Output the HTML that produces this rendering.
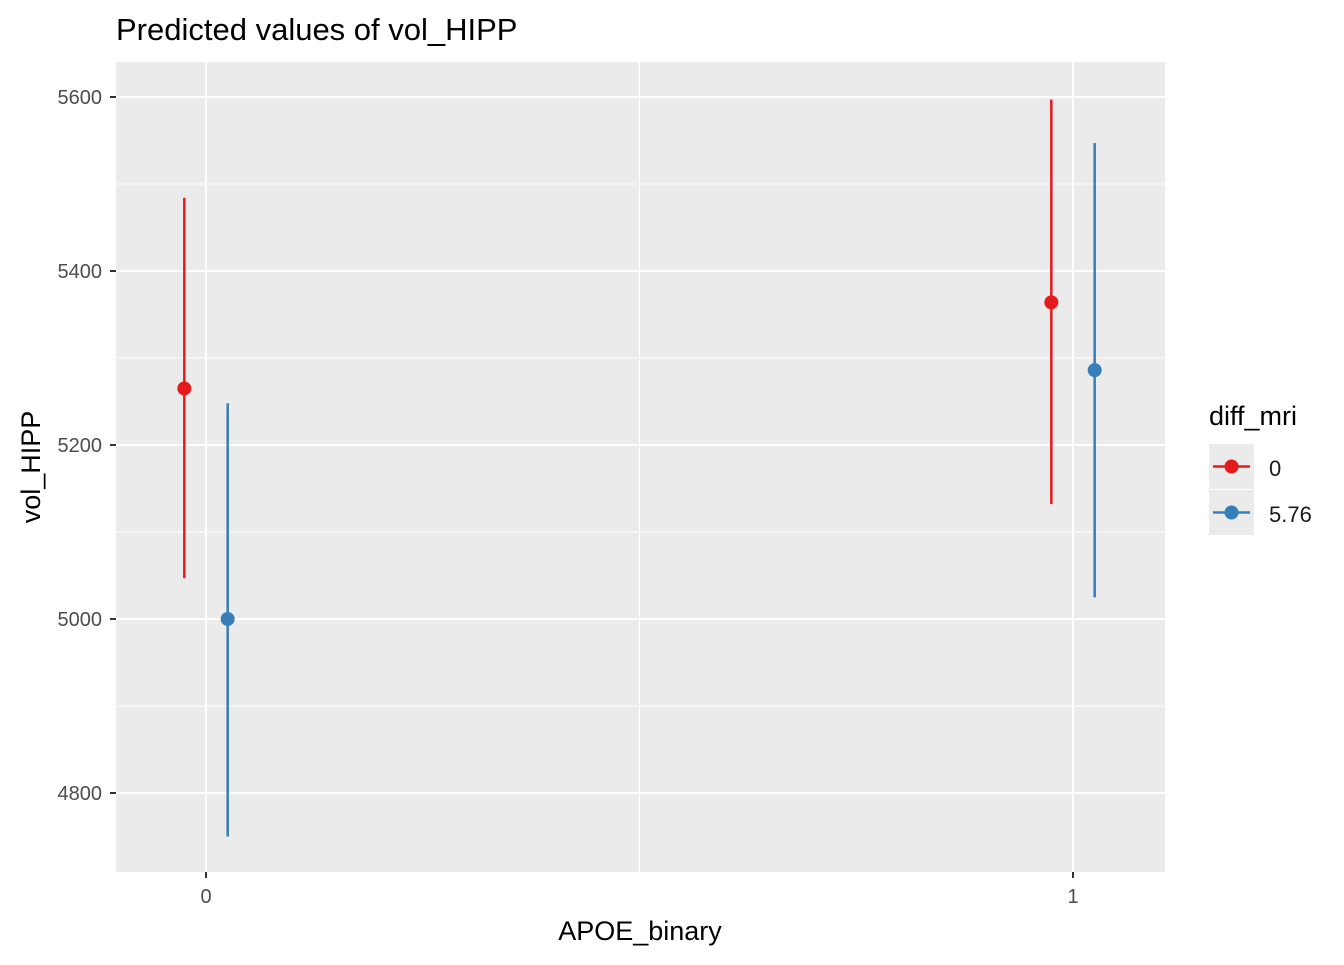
<!DOCTYPE html>
<html><head><meta charset="utf-8"><style>
body{margin:0;background:#fff;font-family:"Liberation Sans",Arial,sans-serif}
</style></head><body>
<svg id="chart" width="1344" height="960" xmlns="http://www.w3.org/2000/svg">
<text x="116" y="40" font-size="31" fill="#000">Predicted values of vol_HIPP</text>
<rect x="116" y="62" width="1049" height="810" fill="#ebebeb"/>
<g id="grid"></g>
<g id="marks"></g>
<g id="axes"></g>
<text x="640" y="940" font-size="27" text-anchor="middle">APOE_binary</text>
<text transform="translate(40,467) rotate(-90)" font-size="27" text-anchor="middle">vol_HIPP</text>
<g>
<text x="1209" y="425" font-size="27">diff_mri</text>
<rect x="1209" y="444" width="45" height="45" fill="#ebebeb"/>
<rect x="1209" y="490" width="45" height="45" fill="#ebebeb"/>
<line x1="1213" x2="1250" y1="466.5" y2="466.5" stroke="#e41a1c" stroke-width="2.5"/>
<circle cx="1231.5" cy="466.5" r="7" fill="#e41a1c"/>
<line x1="1213" x2="1250" y1="512.5" y2="512.5" stroke="#377eb8" stroke-width="2.5"/>
<circle cx="1231.5" cy="512.5" r="7" fill="#377eb8"/>
<text x="1269" y="476" font-size="22" fill="#1a1a1a">0</text>
<text x="1269" y="522" font-size="22" fill="#1a1a1a">5.76</text>
</g>
</svg>
<script>
const categories=[0,1];
const groups=["0","5.76"];
const colors=["#e41a1c","#377eb8"];
const predicted=[[5265,5364],[5000,5286]];
const lower=[[5047,5132],[4750,5025]];
const upper=[[5484,5597],[5248,5547]];
const yTicks=[4800,5000,5200,5400,5600];
const NS="http://www.w3.org/2000/svg";
const xS=v=>206+v*867;
const yS=v=>619-(v-5000)*0.87;
const dodge=[-0.025,0.025];
const grid=document.getElementById('grid'),marks=document.getElementById('marks'),axes=document.getElementById('axes');
function mk(tag,attrs,parent){const e=document.createElementNS(NS,tag);for(const k in attrs)e.setAttribute(k,attrs[k]);parent.appendChild(e);return e;}
for(let i=0;i<yTicks.length-1;i++){const m=(yTicks[i]+yTicks[i+1])/2;mk('line',{x1:116,x2:1165,y1:yS(m),y2:yS(m),stroke:'#fff','stroke-width':1},grid);}
mk('line',{x1:xS(0.5),x2:xS(0.5),y1:62,y2:872,stroke:'#fff','stroke-width':1},grid);
yTicks.forEach(t=>{
 mk('line',{x1:116,x2:1165,y1:yS(t),y2:yS(t),stroke:'#fff','stroke-width':2},grid);
 mk('line',{x1:110,x2:116,y1:yS(t),y2:yS(t),stroke:'#333','stroke-width':2},axes);
 const tx=mk('text',{x:102,y:yS(t)+7,'font-size':20,fill:'#4d4d4d','text-anchor':'end'},axes);tx.textContent=t;
 
 
});
categories.forEach(c=>{
 mk('line',{x1:xS(c),x2:xS(c),y1:62,y2:872,stroke:'#fff','stroke-width':2},grid);
 mk('line',{x1:xS(c),x2:xS(c),y1:872,y2:878,stroke:'#333','stroke-width':2},axes);
 const tx=mk('text',{x:xS(c),y:903,'font-size':20,fill:'#4d4d4d','text-anchor':'middle'},axes);tx.textContent=c;
 
 
});
groups.forEach((g,gi)=>{categories.forEach((c,ci)=>{
 const x=xS(c+dodge[gi]);
 const l=mk('line',{x1:x,x2:x,y1:yS(lower[gi][ci]),y2:yS(upper[gi][ci]),stroke:colors[gi],'stroke-width':2.5},marks);
 
 
 const p=mk('circle',{cx:x,cy:yS(predicted[gi][ci]),r:7,fill:colors[gi]},marks);
 
 
});});
</script>
</body></html>
